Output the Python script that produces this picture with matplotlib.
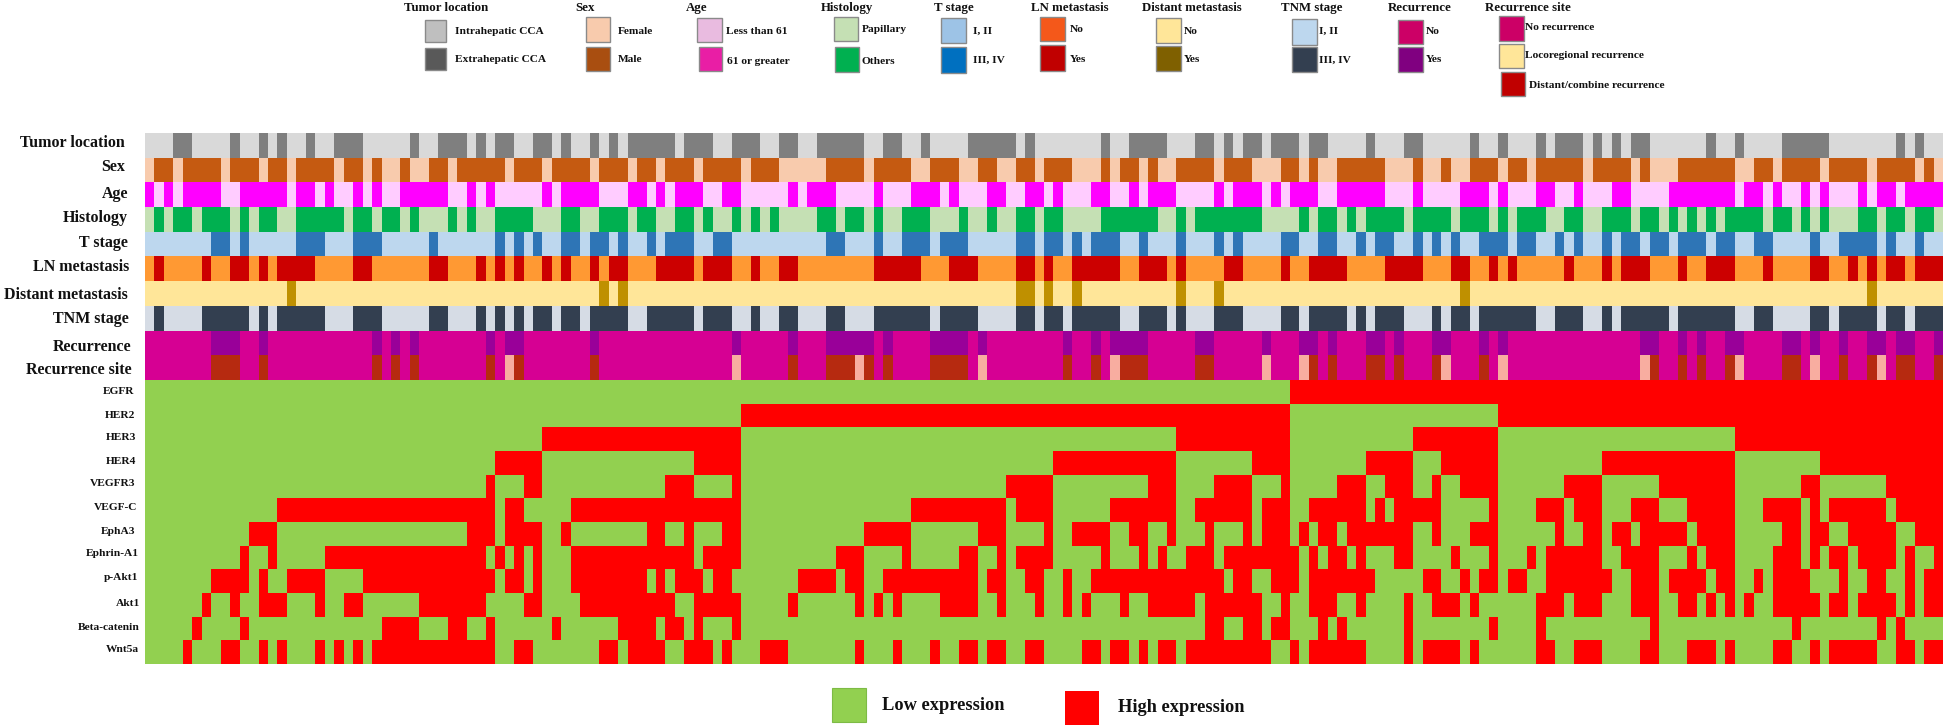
import numpy as np
import matplotlib
matplotlib.use("Agg")
import matplotlib.pyplot as plt
from matplotlib.colors import ListedColormap
from matplotlib.patches import Rectangle

plt.rcParams['font.family'] = ['Liberation Serif', 'DejaVu Serif']
plt.rcParams['font.weight'] = 'bold'

N_PATIENTS = 190

# every row is a list of (first, last) patient runs that have the "second" value
tumor_location = [(3,5),(9,10),(12,13),(14,15),(17,18),(20,23),(28,29),(31,34),(35,36),(37,39),(41,43),(44,45),(47,48),(49,50),(51,56),(57,60),(62,65),
                  (67,69),(71,76),(78,80),(82,83),(87,92),(93,94),(101,102),(104,108),(111,113),(114,115),(116,118),(119,122),(123,125),
                  (129,130),(133,135),(140,141),(143,144),(147,148),(149,152),(153,154),(155,156),(157,159),(165,166),(168,169),(173,178),(185,186),(187,188)]
sex = [(1,3),(4,8),(9,12),(13,15),(16,20),(21,23),(24,25),(27,28),(30,32),(33,38),(39,42),(43,47),(48,51),(52,54),(55,58),(59,63),(64,67),
       (72,76),(77,81),(83,86),(88,90),(92,94),(95,98),(101,102),(103,105),(106,107),(109,113),(114,117),(120,122),(123,124),(126,131),
       (134,135),(137,138),(140,143),(144,146),(147,152),(153,157),(158,159),(162,168),(170,172),(173,177),(178,182),(183,187),(188,189)]
age = [(0,1),(2,3),(4,8),(10,15),(16,18),(19,20),(22,23),(24,25),(27,32),(34,35),(36,37),(42,43),(44,48),(51,53),(54,55),(56,59),(61,63),
       (68,69),(70,73),(77,78),(81,84),(85,86),(89,91),(93,95),(96,97),(100,102),(104,105),(106,109),(113,114),(115,118),(119,120),(121,124),(126,131),
       (134,135),(139,142),(143,144),(147,149),(151,152),(155,157),(161,168),(169,171),(172,173),(175,176),(177,178),(181,182),(183,185),(186,190)]
histology = [(1,2),(3,5),(6,9),(10,11),(12,14),(16,21),(22,24),(25,27),(28,29),(32,33),(34,35),(37,41),(44,46),(48,51),(52,54),(56,58),(59,60),(62,63),(64,65),(66,67),
             (71,73),(74,76),(77,78),(80,83),(86,87),(89,90),(92,94),(95,97),(101,107),(109,110),(111,118),(122,123),(124,126),(127,128),
             (129,133),(134,138),(139,142),(143,144),(145,148),(150,152),(154,157),(158,160),(161,162),(163,164),(165,166),(167,171),(172,174),(175,176),(177,178),(181,183),(184,186),(187,189)]
t_stage = [(7,9),(10,11),(16,19),(22,25),(30,31),(37,38),(39,40),(41,42),(44,46),(47,49),(50,51),(53,54),(55,58),(60,62),
           (72,74),(77,78),(80,83),(84,87),(92,94),(95,97),(98,99),(100,103),(105,106),(109,110),(113,114),(115,116),(120,122),(124,126),
           (128,129),(130,132),(134,135),(136,137),(138,139),(141,144),(145,147),(149,150),(151,152),(154,155),(156,158),(159,161),(162,165),(166,168),(170,172),(176,177),(179,183),(184,185),(187,188)]
ln_metastasis = [(1,2),(6,7),(9,11),(12,13),(14,18),(22,24),(30,32),(35,36),(37,38),(39,40),(42,43),(44,45),(47,48),(49,51),(54,58),(59,62),(64,65),
                 (67,69),(77,82),(85,88),(92,94),(95,96),(98,103),(105,108),(109,110),(114,116),(120,121),(123,127),
                 (131,135),(138,140),(142,143),(144,145),(150,151),(154,155),(156,159),(162,163),(165,168),(171,172),(176,178),(180,181),(182,183),(184,186),(187,190)]
distant_metastasis = [(15,16),(48,49),(50,51),(92,94),(95,96),(98,99),(109,110),(113,114),(139,140),(182,183)]
tnm_stage = [(1,2),(6,11),(12,13),(14,19),(22,25),(30,32),(35,36),(37,38),(39,40),(41,43),(44,46),(47,51),(53,58),(59,62),(64,65),
             (67,69),(72,74),(77,83),(84,88),(92,94),(95,97),(98,103),(105,108),(109,110),(113,116),(120,122),(123,127),
             (128,129),(130,133),(136,137),(138,140),(141,147),(149,152),(154,155),(156,161),(162,168),(170,172),(176,178),(179,183),(184,186),(187,190)]
recurrence = [(7,10),(12,13),(24,25),(26,27),(28,29),(36,37),(38,40),(47,48),(62,63),
              (68,69),(72,77),(78,79),(83,87),(88,89),(97,98),(100,101),(102,106),(111,113),(118,119),(122,124),(125,126),
              (129,131),(132,133),(136,138),(141,142),(143,144),(158,160),(162,163),(164,165),(167,169),(173,175),(176,177),(179,180),(182,184),(185,187),(189,190)]
# recurrence site: locoregional runs, the other recurrences are distant/combined
site_locoregional = [(38,39),(62,63),(75,76),(88,89),(102,103),(118,119),(122,123),(137,138),(143,144),(158,159),(168,169),(176,177),(183,184)]

egfr = [(121,190)]
her2 = [(63,121),(143,190)]
her3 = [(42,63),(109,121),(134,143),(168,190)]
her4 = [(37,42),(58,63),(96,109),(117,121),(129,134),(137,143),(154,168),(177,190)]
vegfr3 = [(36,37),(40,42),(55,58),(62,63),(91,96),(106,109),(113,117),(120,121),(126,129),(131,134),(136,137),(139,143),(150,154),(160,168),(175,177),(184,190)]
vegf_c = [(14,37),(38,40),(45,63),(81,91),(92,96),(102,109),(111,117),(118,121),(123,129),(130,131),(132,137),(142,143),(147,150),(151,154),(157,160),(163,168),(171,175),(176,177),(178,184),(185,190)]
epha3 = [(11,14),(34,37),(38,42),(44,45),(53,55),(57,58),(61,63),(76,81),(88,91),(95,96),(98,102),(104,106),(108,109),(112,113),(116,117),(118,121),(122,123),(124,126),(127,134),(136,137),(140,143),(149,150),(152,154),(155,157),(158,163),(164,168),(173,175),(176,178),(180,185),(187,190)]
ephrin_a1 = [(10,11),(13,14),(19,36),(37,38),(39,40),(41,42),(45,58),(59,63),(73,76),(80,81),(86,88),(90,91),(92,96),(101,102),(105,106),(107,108),(110,113),(114,122),(123,124),(125,127),(128,129),(132,134),(138,139),(142,143),(146,147),(148,154),(156,160),(163,164),(165,168),(172,175),(176,177),(178,180),(181,185),(186,187),(189,190)]
p_akt1 = [(7,11),(12,13),(15,19),(23,37),(38,40),(41,42),(45,53),(54,55),(56,59),(60,62),(69,73),(74,76),(78,88),(89,91),(93,95),(97,98),(100,114),(115,117),(119,122),(123,130),(135,137),(139,140),(141,143),(144,146),(148,155),(157,160),(161,165),(166,168),(170,171),(172,176),(179,180),(182,184),(186,187),(188,190)]
akt1 = [(6,7),(9,10),(12,15),(18,19),(21,23),(29,36),(40,42),(46,56),(58,63),(68,69),(75,76),(77,78),(79,80),(84,88),(90,91),(94,95),(97,98),(99,100),(103,104),(106,111),(112,118),(120,121),(123,126),(128,129),(133,134),(136,139),(140,141),(147,150),(151,154),(157,160),(162,164),(165,166),(167,168),(169,170),(172,177),(178,180),(181,185),(186,187),(188,190)]
beta_catenin = [(5,6),(10,11),(25,29),(32,34),(36,37),(43,44),(50,54),(55,57),(58,59),(62,63),(112,114),(116,118),(119,121),(124,125),(126,127),(133,134),(142,143),(147,148),(159,160),(174,175),(183,184),(185,186)]
wnt5a = [(4,5),(8,10),(12,13),(14,15),(18,19),(20,21),(22,23),(24,37),(39,41),(48,50),(51,55),(57,60),(61,62),(65,68),(75,76),(79,80),(83,84),(86,88),(89,91),(93,95),(99,101),(102,104),(105,106),(107,109),(110,119),(121,122),(123,129),(133,134),(135,139),(140,141),(147,149),(151,154),(158,160),(163,166),(167,168),(172,174),(176,177),(178,183),(185,187),(188,190)]

clinical_rows = [tumor_location, sex, age, histology, t_stage, ln_metastasis,
                 distant_metastasis, tnm_stage, recurrence]
gene_rows = [egfr, her2, her3, her4, vegfr3, vegf_c, epha3, ephrin_a1, p_akt1, akt1, beta_catenin, wnt5a]

# (text, right edge px, centre y px)
clinical_labels = [("Tumor location",125,143),("Sex",125,167),("Age",128,194),("Histology",128,218),
                   ("T stage",128,243),("LN metastasis",129,267),("Distant metastasis",128,295),
                   ("TNM stage",129,319),("Recurrence",131,347),("Recurrence site",132,370)]
gene_labels = [("EGFR",134,392),("HER2",135,415),("HER3",136,438),("HER4",136,461),("VEGFR3",135,483),
               ("VEGF-C",137,507),("EphA3",135,532),("Ephrin-A1",139,553),("p-Akt1",138,578),
               ("Akt1",140,604),("Beta-catenin",140,627),("Wnt5a",139,650)]

clinical_colors = ['#D9D9D9','#7F7F7F', '#F8CBAD','#C55A11', '#FFCCFF','#FF00FF', '#C5E0B4','#00B050',
                   '#BDD7EE','#2E75B6', '#FF9933','#CC0000', '#FFE699','#BF9000', '#D6DCE5','#333F50',
                   '#D60093','#990099', '#F8ADA0','#B62A10']
gene_colors = ['#92D050', '#FF0000']

# title, title x, [(label, swatch x0, x1, y0, y1, label x, label y, colour)]
legends = [
    ("Tumor location", 404, [("Intrahepatic CCA",425,446,20,42,455,31,'#BFBFBF'), ("Extrahepatic CCA",425,446,48,70,455,59,'#595959')]),
    ("Sex", 575, [("Female",586,610,17,42,618,31,'#F8CBAD'), ("Male",586,610,47,71,618,59,'#A94E10')]),
    ("Age", 686, [("Less than 61",697,722,18,42,726,32,'#E9BBE0'), ("61 or greater",699,722,47,71,727,62,'#E91EA5')]),
    ("Histology", 821, [("Papillary",834,858,17,41,862,29,'#C5E0B4'), ("Others",835,859,47,72,862,61,'#00B050')]),
    ("T stage", 934, [("I, II",941,966,18,43,973,31,'#9DC3E6'), ("III, IV",941,966,47,73,973,60,'#0070C0')]),
    ("LN metastasis", 1031, [("No",1040,1065,17,41,1070,29,'#F4581A'), ("Yes",1040,1065,45,71,1070,59,'#C00000')]),
    ("Distant metastasis", 1142, [("No",1156,1181,18,43,1184,31,'#FFE699'), ("Yes",1156,1181,46,71,1184,60,'#7F6000')]),
    ("TNM stage", 1281, [("I, II",1292,1317,19,45,1319,31,'#BDD7EE'), ("III, IV",1292,1317,47,72,1319,60,'#333F50')]),
    ("Recurrence", 1388, [("No",1398,1423,20,44,1426,31,'#CC0066'), ("Yes",1398,1423,47,72,1426,60,'#800080')]),
    ("Recurrence site", 1485, [("No recurrence",1499,1524,16,41,1525,27,'#CC0066'),
                               ("Locoregional recurrence",1499,1524,44,68,1525,56,'#FFE699'),
                               ("Distant/combine recurrence",1501,1525,72,96,1529,85,'#C00000')]),
]


def runs_to_row(runs):
    row = np.zeros(N_PATIENTS, dtype=int)
    for start, end in runs:
        row[start:end] = 1
    return row


W, H = 1946, 728
fig = plt.figure(figsize=(W / 100, H / 100), dpi=100, facecolor='white')


def px_axes(x0, x1, y0, y1):
    return fig.add_axes([x0 / W, 1 - y1 / H, (x1 - x0) / W, (y1 - y0) / H])


# clinical block, each row has its own pair of colours
clinical = [runs_to_row(r) + 2 * i for i, r in enumerate(clinical_rows)]
site = runs_to_row(recurrence) * 19 + 16 * (1 - runs_to_row(recurrence))
site[runs_to_row(site_locoregional) == 1] = 18
clinical.append(site)
ax_top = px_axes(145, 1943, 133, 380)
ax_top.imshow(np.array(clinical), aspect='auto', interpolation='nearest',
              cmap=ListedColormap(clinical_colors), vmin=0, vmax=len(clinical_colors) - 1)
ax_top.axis('off')

# expression block
ax_bottom = px_axes(145, 1943, 380, 664)
ax_bottom.imshow(np.array([runs_to_row(r) for r in gene_rows]), aspect='auto', interpolation='nearest',
                 cmap=ListedColormap(gene_colors), vmin=0, vmax=1)
ax_bottom.axis('off')

# everything else lives on an overlay in image pixels
ax = fig.add_axes([0, 0, 1, 1], zorder=5)
ax.set_xlim(0, W)
ax.set_ylim(H, 0)
ax.axis('off')

for text, x, y in clinical_labels:
    ax.text(x, y, text, ha='right', va='center', fontsize=11.5, color='#111111')
for text, x, y in gene_labels:
    ax.text(x, y, text, ha='right', va='center', fontsize=8.2, color='#111111')

for title, title_x, items in legends:
    ax.text(title_x, 8, title, ha='left', va='center', fontsize=9.3, color='#111111')
    for label, x0, x1, y0, y1, lx, ly, color in items:
        ax.add_patch(Rectangle((x0, y0), x1 - x0, y1 - y0, facecolor=color, edgecolor='#8A8A8A', linewidth=1))
        ax.text(lx, ly, label, ha='left', va='center', fontsize=8.2, color='#111111')

ax.add_patch(Rectangle((832, 688), 34, 34, facecolor=gene_colors[0], edgecolor='#7DBB45', linewidth=0.8))
ax.text(882, 705, "Low expression", ha='left', va='center', fontsize=13.2, color='#111111')
ax.add_patch(Rectangle((1065, 691), 34, 34, facecolor=gene_colors[1], edgecolor='none'))
ax.text(1118, 708, "High expression", ha='left', va='center', fontsize=13.2, color='#111111')

fig.savefig('out.png', dpi=100)
